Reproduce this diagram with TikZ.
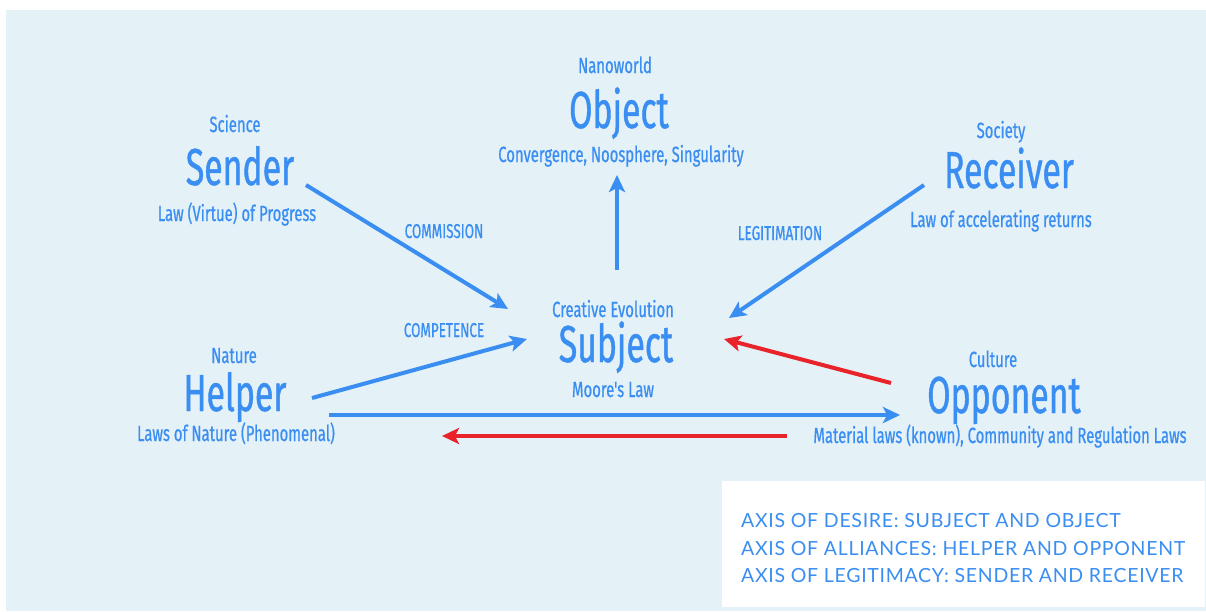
\documentclass[tikz,border=0pt]{standalone}
\usepackage{fontspec}
\setmainfont{Fira Sans}[FakeStretch=0.65, FakeBold=0.8]
\newfontfamily\tagfont{Fira Sans}[FakeStretch=0.675, FakeBold=0.6]
\newfontfamily\boxfont{Lato}[LetterSpace=3.6]
\usetikzlibrary{arrows.meta}
\usepackage{xcolor}
\definecolor{actblue}{RGB}{58,142,242}
\definecolor{actred}{RGB}{232,36,42}
\definecolor{bgblue}{RGB}{228,241,247}

\begin{document}
\begin{tikzpicture}[x=1pt, y=-1pt,
  role/.style={text=actblue, anchor=base, inner sep=0pt, font=\fontsize{52pt}{52pt}\selectfont},
  tag/.style={text=actblue, anchor=base, inner sep=0pt, font=\tagfont\fontsize{22pt}{22pt}\selectfont},
  axislabel/.style={text=actblue, anchor=base, inner sep=0pt, font=\tagfont\fontsize{20pt}{20pt}\selectfont},
  link/.style={line width=4pt, draw=actblue, -{Stealth[length=17pt,width=16pt,inset=4pt]}},
  block/.style={link, draw=actred}]
\useasboundingbox (0,0) rectangle (1206,611);
%background
\fill[bgblue] (6,10) rectangle (1206,611);
\fill[white] (722,481) rectangle (1205,607);
%actants
\node[tag]  (science)  at (235,132) {Science};
\node[role] (sender)   at (240,185) {Sender};
\node[tag]  (progress) at (237,221) {Law (Virtue) of Progress};
\node[tag]  (nanoworld) at (615,73) {Nanoworld};
\node[role] (object)    at (619,128) {Object};
\node[tag]  (noosphere) at (621,162) {Convergence, Noosphere, Singularity};
\node[tag]  (society)  at (1001,138) {Society};
\node[role] (receiver) at (1009,188) {Receiver};
\node[tag]  (returns)  at (1001,227) {Law of accelerating returns};
\node[tag]  (evolution) at (613,317) {Creative Evolution};
\node[role] (subject)   at (616,362) {Subject};
\node[tag]  (moore)     at (613,397) {Moore's Law};
\node[tag]  (nature)   at (234,363) {Nature};
\node[role] (helper)   at (235,411) {Helper};
\node[tag]  (natlaws)  at (236,441) {Laws of Nature (Phenomenal)};
\node[tag]  (culture)  at (993,367) {Culture};
\node[role] (opponent) at (1004,413) {Opponent};
\node[tag]  (matlaws)  at (1000,443) {Material laws (known), Community and Regulation Laws};
%axis labels
\node[axislabel] (commission)  at (444,238) {COMMISSION};
\node[axislabel] (legitimation) at (780,240) {LEGITIMATION};
\node[axislabel] (competence)  at (444,337) {COMPETENCE};
%arrow ends
\coordinate (sender-out)   at (306,185);
\coordinate (sender-in)    at (508,309);
\coordinate (object-in)    at (617,175);
\coordinate (subject-up)   at (617,270);
\coordinate (receiver-out) at (924,185);
\coordinate (receiver-in)  at (729,318);
\coordinate (helper-out)   at (312,398);
\coordinate (helper-in)    at (527,339);
\coordinate (ally-out)     at (329,415);
\coordinate (ally-in)      at (900,415);
\coordinate (opp-out)      at (891,383);
\coordinate (opp-in)       at (724,339);
\coordinate (oppose-out)   at (787,436);
\coordinate (oppose-in)    at (442,436);
%arrows
\draw[link] (sender-out) -- (sender-in);
\draw[link] (subject-up) -- (object-in);
\draw[link] (receiver-out) -- (receiver-in);
\draw[link] (helper-out) -- (helper-in);
\draw[link] (ally-out) -- (ally-in);
\draw[block] (opp-out) -- (opp-in);
\draw[block] (oppose-out) -- (oppose-in);
%legend
\foreach \y/\txt [count=\i] in {527/{AXIS OF DESIRE: SUBJECT AND OBJECT},
    555/{AXIS OF ALLIANCES: HELPER AND OPPONENT},
    582/{AXIS OF LEGITIMACY: SENDER AND RECEIVER}}{
  \node[anchor=base west, inner sep=0pt, text=actblue, font=\boxfont\fontsize{19.5pt}{19.5pt}\selectfont] (axis\i) at (741,\y) {\txt};
  }
\end{tikzpicture}
\end{document}
